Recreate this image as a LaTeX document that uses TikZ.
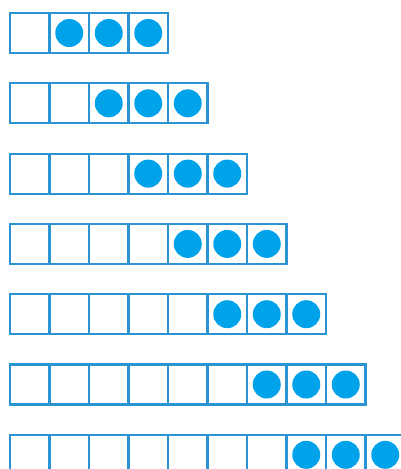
\documentclass[tikz,border=0pt]{standalone}
\definecolor{edgeblue}{HTML}{2A93D2}
\definecolor{dotblue}{HTML}{00A2EA}
\tikzset{
  cell/.style={draw=edgeblue, line width=2.2pt, minimum width=39.5pt, minimum height=40pt, inner sep=0pt, outer sep=0pt, anchor=north west},
  dot/.style={circle, fill=dotblue, minimum size=28pt, inner sep=0pt}
}
\begin{document}
\begin{tikzpicture}[x=1pt,y=-1pt]
\clip (0,0) rectangle (401,469);
\fill[white] (0,0) rectangle (401,469);
\foreach \r in {1,...,7}{
  \pgfmathsetmacro{\top}{13+70.3*(\r-1)}
  \pgfmathtruncatemacro{\n}{\r+3}
  \foreach \c in {1,...,\n}{
    \node[cell] (b-\r-\c) at ({10+39.5*(\c-1)},\top) {};
  }
  \foreach \c in {1,2,3}{
    \pgfmathtruncatemacro{\cc}{\r+\c}
    \node[dot] (d-\r-\c) at (b-\r-\cc.center) {};
  }
}
\end{tikzpicture}
\end{document}
